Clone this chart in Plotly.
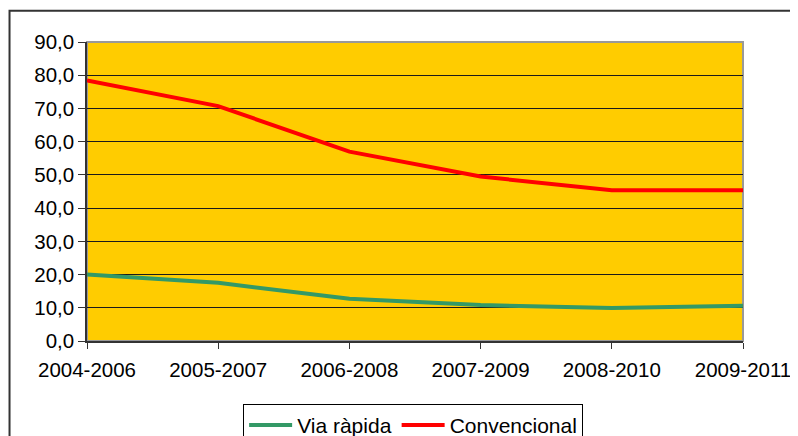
import plotly.graph_objects as go

periods = ["2004-2006", "2005-2007", "2006-2008", "2007-2009", "2008-2010", "2009-2011"]
via_rapida = [20.0, 17.5, 12.7, 10.8, 9.9, 10.6]
convencional = [78.4, 70.7, 57.0, 49.5, 45.4, 45.4]
y_ticks = [0, 10, 20, 30, 40, 50, 60, 70, 80, 90]

FONT = "Liberation Sans, Arial, sans-serif"

fig = go.Figure()
fig.add_trace(go.Scatter(x=periods, y=via_rapida, mode="lines", name="Via ràpida",
                         line=dict(color="#339966", width=4)))
fig.add_trace(go.Scatter(x=periods, y=convencional, mode="lines", name="Convencional",
                         line=dict(color="#FF0000", width=4)))

# page body has an 8px margin: figure is 790x428 placed at (8, 8)
fig.update_layout(
    width=790, height=428,
    margin=dict(l=78.5, r=55.3, t=34.3, b=95.3, autoexpand=False),
    paper_bgcolor="white",
    plot_bgcolor="#FFCC00",
    separators=",.",
    font=dict(family=FONT, size=20.5, color="black"),
    showlegend=True,
    legend=dict(orientation="h", x=0.238, xanchor="left", y=-0.2098, yanchor="top",
                bordercolor="black", borderwidth=1, bgcolor="white",
                font=dict(family=FONT, size=21, color="black"),
                itemwidth=43, tracegroupgap=0),
    xaxis=dict(type="category", range=[0, len(periods) - 1], showgrid=False,
               showline=True, linecolor="#333333", linewidth=1.5,
               ticks="outside", ticklen=6, tickcolor="#333333",
               ticklabelstandoff=4, automargin=False,
               tickfont=dict(family=FONT, size=20.5, color="black"), zeroline=False),
    yaxis=dict(range=[0, 90], tickvals=y_ticks, tickformat=".1f",
               ticksuffix="\u2009\u2009\u2009",
               showgrid=True, gridcolor="#1a1a1a", gridwidth=1,
               showline=True, linecolor="#333333", linewidth=1.5,
               ticks="outside", ticklen=7, tickcolor="#333333",
               automargin=False,
               tickfont=dict(family=FONT, size=20.5, color="black"), zeroline=False),
    shapes=[
        dict(type="rect", xref="paper", yref="paper", x0=0, x1=1, y0=0, y1=1,
             line=dict(color="#999999", width=2), layer="below"),
        dict(type="rect", xref="paper", yref="paper", x0=-0.1181, x1=1.2, y0=-0.5, y1=1.1049,
             line=dict(color="#333333", width=2), fillcolor="rgba(0,0,0,0)", layer="below"),
    ],
)

fig.write_html("out.html")
